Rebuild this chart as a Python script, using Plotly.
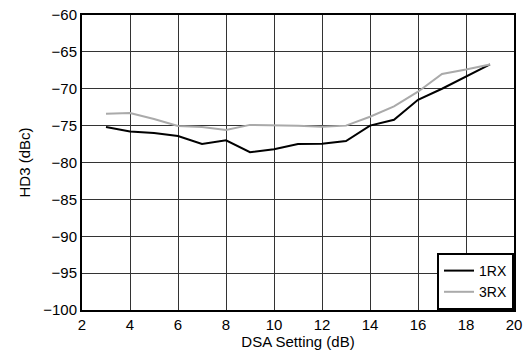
import plotly.graph_objects as go

dsa = [3, 4, 5, 6, 7, 8, 9, 10, 11, 12, 13, 14, 15, 16, 17, 18, 19]
hd3_1rx = [-75.2, -75.8, -76.0, -76.4, -77.5, -77.0, -78.6, -78.2, -77.5, -77.45, -77.1, -75.0, -74.2, -71.5, -70.0, -68.4, -66.7]
hd3_3rx = [-73.4, -73.3, -74.1, -75.05, -75.2, -75.6, -74.9, -74.9, -75.0, -75.15, -75.0, -73.8, -72.4, -70.4, -68.0, -67.4, -66.7]

fig = go.Figure()
fig.add_trace(go.Scatter(x=dsa, y=hd3_1rx, mode="lines", name="1RX",
                         line=dict(color="black", width=2)))
fig.add_trace(go.Scatter(x=dsa, y=hd3_3rx, mode="lines", name="3RX",
                         line=dict(color="#aaaaaa", width=2)))

fam = "Liberation Sans, Arial, sans-serif"
font = dict(family=fam, size=15, color="black")
fig.update_layout(
    width=524, height=355,
    margin=dict(l=82, r=10, t=15, b=45, autoexpand=False),
    paper_bgcolor="white", plot_bgcolor="white",
    font=font,
    showlegend=True,
    legend=dict(x=1, y=0, xanchor="right", yanchor="bottom",
                bordercolor="black", borderwidth=2, bgcolor="white",
                font=dict(family=fam, size=14, color="black"),
                tracegroupgap=0, itemwidth=30),
    xaxis=dict(range=[2, 20], dtick=2, tick0=2, showgrid=True, gridcolor="#333333", gridwidth=1,
               showline=True, linecolor="black", linewidth=2, mirror=True,
               ticks="", zeroline=False, automargin=False, tickfont=font,
               title=dict(text="DSA Setting (dB)", font=font, standoff=0)),
    yaxis=dict(range=[-100, -60], dtick=5, showgrid=True, gridcolor="#333333", gridwidth=1,
               showline=True, linecolor="black", linewidth=2, mirror=True,
               ticks="", zeroline=False, automargin=False, tickfont=font,
               title=dict(text="HD3 (dBc)", font=font, standoff=9)),
)
fig.write_html("out.html", config={"displayModeBar": False},
               post_script="document.body.style.margin='0';")
